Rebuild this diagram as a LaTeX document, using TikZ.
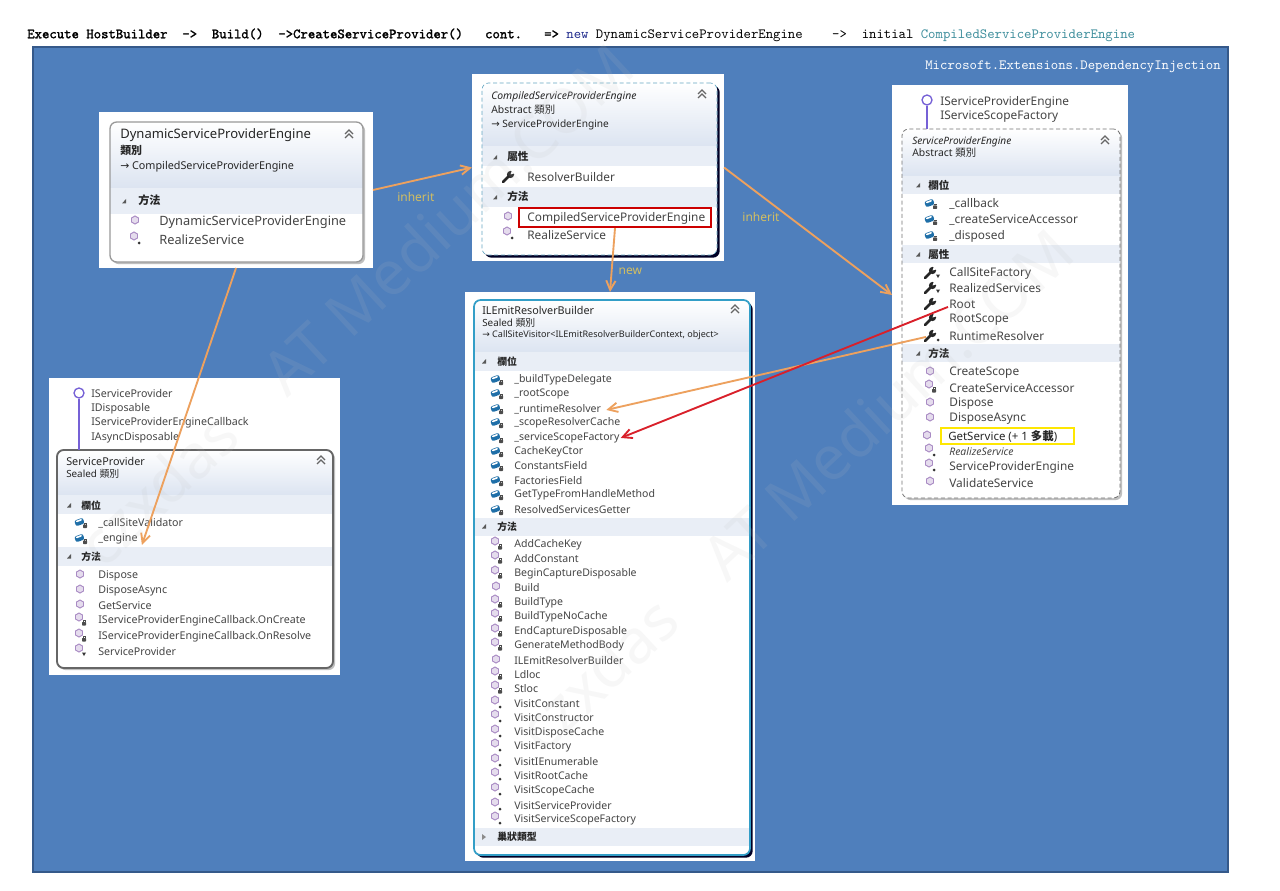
\documentclass[tikz,border=0pt]{standalone}
\usepackage{fontspec}
\setmainfont{Noto Sans}
\newfontfamily\cjk{Noto Sans CJK TC}
\newfontfamily\arrowfont{DejaVu Sans}
\newfontfamily\titlebold[FakeBold=1.6]{Latin Modern Mono}
\usetikzlibrary{arrows.meta, shadows, shapes.geometric}
\definecolor{mback}{HTML}{4F7FBC}
\definecolor{mrim}{HTML}{35598A}
\definecolor{mband}{HTML}{E9EEF6}
\definecolor{mhead}{HTML}{DCE4F1}
\definecolor{mtext}{HTML}{454545}
\definecolor{mpurp}{HTML}{A98BC4}
\definecolor{mfield}{HTML}{1F6FA8}
\definecolor{morange}{HTML}{EDA15E}
\definecolor{mred}{HTML}{D9202A}
\definecolor{mlabel}{HTML}{D2BE62}
\definecolor{mteal}{HTML}{3E8E9C}
\definecolor{mnavy}{HTML}{1F2A8C}
\tikzset{
  sized/.style 2 args={minimum width=#1*.75pt, minimum height=#2*.75pt},
  panel/.style={rectangle, fill=white, inner sep=0pt, outer sep=0pt},
  softshadow/.style={fill=white, drop shadow={shadow xshift=1.6pt, shadow yshift=-1.6pt, fill=black!25, opacity=1}},
  darkshadow/.style={fill=white, drop shadow={shadow xshift=2pt, shadow yshift=-2pt, fill=black!85!blue, opacity=1}},
  cardbase/.style={rectangle, rounded corners=5pt, inner sep=0pt, outer sep=0pt},
  greyline/.style={draw=black!40, line width=1pt},
  darkline/.style={draw=black!60, line width=1.4pt},
  blueline/.style={draw=black!10!blue!30!cyan!60!gray, line width=1.3pt},
  dotline/.style={draw=cyan!50!gray, line width=.5pt, densely dashed},
  dashline/.style={draw=black!55, line width=.6pt, densely dashed},
  member/.style={anchor=west, inner sep=0pt, outer sep=1pt, yshift=-.7pt, text=mtext, font=\fontsize{#1}{#1}\selectfont},
  cardtext/.style={anchor=west, inner sep=0pt, text=black!85, font=\fontsize{#1}{#1}\selectfont},
  bandtext/.style={anchor=west, inner sep=0pt, yshift=-.4pt, text=black!85, font=\cjk\bfseries\fontsize{#1}{#1}\selectfont},
  edgelabel/.style={inner sep=0pt, text=mlabel, font=\fontsize{9}{9}\selectfont},
  cable/.style={line width=1.4pt, -{Straight Barb[length=7pt, width=7pt, line width=1.4pt]}},
  wmark/.style={rotate=43, text=black!25, opacity=.12, inner sep=0pt, font=\bfseries\fontsize{46}{46}\selectfont},
  chevrons/.pic={
    \draw [black!60, line width=1pt] (-4,0) -- (0,-4) -- (4,0);
    \draw [black!60, line width=1pt] (-4,4) -- (0,0) -- (4,4);
  },
  opentri/.pic={\fill [black!65] (-2,2.5) -- (2,2.5) -- (2,-2) -- cycle;},
  shuttri/.pic={\fill [black!45] (-2,-3) -- (2,0) -- (-2,3) -- cycle;},
  cube/.pic={\draw [mpurp, fill=mpurp!30, line width=.7pt] (0,-4) -- (3.5,-2) -- (3.5,2) -- (0,4) -- (-3.5,2) -- (-3.5,-2) -- cycle;},
  lockmark/.pic={\fill [black!70, rounded corners=.4pt] (-2,-1) rectangle (2,2.5); \draw [black!70, line width=.5pt] (-1,-1) -- (-1,-2.5) -- (1,-2.5) -- (1,-1);},
  starmark/.pic={\fill [black!80] (0,0) circle (1.5);},
  downmark/.pic={\fill [black!80] (-2,-1.5) -- (2,-1.5) -- (0,2) -- cycle;},
  fld/.pic={
    \fill [mfield, rounded corners=1.5pt, rotate=20] (-6,-3.5) rectangle (3,2.5);
    \fill [white, rounded corners=.5pt, rotate=20] (-4.5,-2.8) rectangle (1.5,-1.2);
    \pic at (4,3.5) {lockmark};
  },
  wrench/.pic={
    \draw [black!85, line width=1.9pt, line cap=round] (-6,6) -- (0,0);
    \fill [black!85] (1.5,-1.5) circle (3.6);
    \fill [white] (1.5,-1.5) -- (3,-6) -- (6.5,-3) -- cycle;
  },
  mth/.pic={\pic at (-1,-1) {cube};},
  mthlock/.pic={\pic at (-2,-3) {cube}; \pic at (3,3) {lockmark};},
  mthstar/.pic={\pic at (-2,-3) {cube}; \pic at (3,4) {starmark};},
  mthdown/.pic={\pic at (-2,-3) {cube}; \pic at (3,3) {downmark};},
  wr/.pic={\pic {wrench};},
  wrstar/.pic={\pic {wrench}; \pic at (7,5) {starmark};},
  wrdown/.pic={\pic {wrench}; \pic at (7,4) {downmark};},
}
\newcommand{\classcard}[9]{%
  \node (#1) [cardbase, sized={#4}{#5}, #6] at (#2,#3) {};
  \begin{scope}
    \clip [rounded corners=5pt] (#1.north west) rectangle (#1.south east);
    \shade [top color=white, bottom color=mhead] (#1.north west) rectangle (#1.east |- 0,#9);
    \foreach \ta/\tb in {#8} \fill [mband] (#1.west |- 0,\ta) rectangle (#1.east |- 0,\tb);
  \end{scope}
  \node [cardbase, sized={#4}{#5}, #7] at (#2,#3) {};
}
\newcommand{\memberlist}[5]{%
  \foreach \yy/\nm/\ic in {#5} {
    \pic at (#3,\yy) {\ic};
    \node (#1\yy) [member=#2] at (#4,\yy) {\nm};
  }%
}
\begin{document}
\begin{tikzpicture}[x=.75pt, y=-.75pt]
  \useasboundingbox (0,0) rectangle (1280,891);
  % title and frame
  \node (title) [anchor=west, inner sep=0pt, font=\ttfamily\fontsize{10.55}{12}\selectfont] at (27,35) {{\titlebold Execute\ HostBuilder\ \ ->\ \ Build()\ \ ->CreateServiceProvider()\ \ \ cont.\ \ \ =>\ }\textcolor{mnavy}{new}\ DynamicServiceProviderEngine\ \ \ \ ->\ \ initial\ \textcolor{mteal}{CompiledServiceProviderEngine}};
  \node (frame) [rectangle, fill=mback, draw=mrim, line width=1.4pt, sized={1195}{825}] at (630.5,459.5) {};
  \node (nspace) [anchor=east, inner sep=0pt, text=white, font=\ttfamily\fontsize{10.55}{12}\selectfont] at (1221,67) {Microsoft.Extensions.DependencyInjection};
  % white panels
  \node (dynpanel) [panel, sized={274}{156}] at (236,190) {};
  \node (cmppanel) [panel, sized={252}{187}] at (598,167.5) {};
  \node (spepanel) [panel, sized={236}{420}] at (1010,295) {};
  \node (ilpanel) [panel, sized={290}{569}] at (610,576.5) {};
  \node (sppanel) [panel, sized={291}{297}] at (194.5,526.5) {};
  % DynamicServiceProviderEngine
  \classcard{dyncard}{236.5}{192}{253}{140}{softshadow}{greyline}{188/214}{188}
  \node (dynname) [cardtext=9.8] at (120,135) {DynamicServiceProviderEngine};
  \node (dynkind) [bandtext=8.2] at (120,150) {類別};
  \node (dynbase) [cardtext=8.1] at (120,167) {{\arrowfont→} CompiledServiceProviderEngine};
  \pic at (349,134) {chevrons};
  \pic at (124,201) {opentri};
  \node (dynband) [bandtext=8.4] at (138,200) {方法};
  \memberlist{dy}{9.6}{136}{158}{221/DynamicServiceProviderEngine/mth, 239/RealizeService/mthstar}
  % CompiledServiceProviderEngine
  \classcard{cmpcard}{599.5}{169}{235}{172}{darkshadow}{dotline}{146/166, 187/207}{146}
  \node (cmpname) [cardtext=7.8, font=\itshape\fontsize{7.8}{8}\selectfont, yshift=-1pt] at (491,95) {CompiledServiceProviderEngine};
  \node (cmpkind) [cardtext=7.8] at (491,110) {Abstract {\cjk 類別}};
  \node (cmpbase) [cardtext=7.6] at (491,125) {{\arrowfont→} ServiceProviderEngine};
  \pic at (702,94) {chevrons};
  \pic at (495,157) {opentri};
  \node (cmpband1) [bandtext=8] at (507,156) {屬性};
  \pic at (495,197) {opentri};
  \node (cmpband2) [bandtext=8] at (507,196) {方法};
  \node (ctorbox) [rectangle, draw=red!80!black, line width=1.6pt, sized={192}{19}] at (615,217.5) {};
  \memberlist{cm}{8.9}{509}{526}{176/ResolverBuilder/wr, 217/CompiledServiceProviderEngine/mth, 234/RealizeService/mthstar}
  % ServiceProviderEngine
  \node (speroot) [circle, draw=mpurp!70!blue, line width=1pt, inner sep=0pt, minimum size=7.5pt] at (927,100) {};
  \classcard{specard}{1011}{313.5}{218}{369}{softshadow}{dashline}{176/194, 245/263, 344/362}{176}
  \draw [mpurp!70!blue, line width=1pt] (speroot) -- (specard.north -| speroot);
  \foreach \yy/\nm in {101/IServiceProviderEngine, 116/IServiceScopeFactory}
    \node (sp\yy) [member=8.9] at (939,\yy) {\nm};
  \node (spename) [cardtext=7.6, font=\itshape\fontsize{7.6}{8}\selectfont, yshift=-1pt] at (912,141) {ServiceProviderEngine};
  \node (spekind) [cardtext=7.8] at (912,153) {Abstract {\cjk 類別}};
  \pic at (1105,140) {chevrons};
  \foreach \yy/\nm in {185/欄位, 254/屬性, 353/方法} {
    \pic at (918,\yy) {opentri};
    \node (spe\yy) [bandtext=7.9] at (928,\yy) {\nm};
  }
  \node (getbox) [rectangle, draw=yellow!90!orange, line width=1.6pt, sized={133}{16}] at (1007.5,436) {};
  \memberlist{se}{8.9}{931}{948}{203/\_callback/fld, 219/\_createServiceAccessor/fld, 235/\_disposed/fld, 272/CallSiteFactory/wrdown, 287/RealizedServices/wrdown, 303/Root/wr, 319/RootScope/wr, 335/RuntimeResolver/wrstar, 372/CreateScope/mth, 387/CreateServiceAccessor/mthlock, 403/Dispose/mth, 418/DisposeAsync/mth, 451/{\itshape\fontsize{7.8}{8}\selectfont RealizeService}/mthstar, 466/ServiceProviderEngine/mthstar, 482/ValidateService/mth}
  \pic at (928,436) {mth};
  \node (se436) [cardtext=8.6, font=\bfseries\fontsize{8.6}{9}\selectfont] at (948,436) {GetService (+ 1 {\cjk 多載})};
  % ILEmitResolverBuilder
  \classcard{ilcard}{612}{577.5}{276}{555}{darkshadow}{blueline}{352/371, 518/536, 828/846}{352}
  \node (ilname) [cardtext=8.1] at (482,310) {ILEmitResolverBuilder};
  \node (ilkind) [cardtext=7.4] at (482,323) {Sealed {\cjk 類別}};
  \node (ilbase) [cardtext=6.8] at (482,335) {{\arrowfont→} CallSiteVisitor<ILEmitResolverBuilderContext, object>};
  \pic at (735,309) {chevrons};
  \foreach \yy/\nm in {361/欄位, 526/方法} {
    \pic at (484,\yy) {opentri};
    \node (il\yy) [bandtext=7.4] at (497,\yy) {\nm};
  }
  \pic at (484,837) {shuttri};
  \node (il836) [bandtext=7.4] at (497,836) {巢狀類型};
  \memberlist{il}{7.9}{497}{513}{379/\_buildTypeDelegate/fld, 393/\_rootScope/fld, 408/\_runtimeResolver/fld, 422/\_scopeResolverCache/fld, 437/\_serviceScopeFactory/fld, 451/CacheKeyCtor/fld, 465/ConstantsField/fld, 480/FactoriesField/fld, 494/GetTypeFromHandleMethod/fld, 509/ResolvedServicesGetter/fld}
  \memberlist{il}{7.9}{497}{513}{544/AddCacheKey/mthlock, 558/AddConstant/mthlock, 573/BeginCaptureDisposable/mthlock, 587/Build/mth, 602/BuildType/mthlock, 616/BuildTypeNoCache/mthlock, 631/EndCaptureDisposable/mthlock, 645/GenerateMethodBody/mthlock, 660/ILEmitResolverBuilder/mth, 674/Ldloc/mthlock, 688/Stloc/mthlock, 703/VisitConstant/mthstar, 717/VisitConstructor/mthstar, 732/VisitDisposeCache/mthstar, 746/VisitFactory/mthstar, 761/VisitIEnumerable/mthstar, 775/VisitRootCache/mthstar, 790/VisitScopeCache/mthstar, 805/VisitServiceProvider/mthstar, 819/VisitServiceScopeFactory/mthstar}
  % ServiceProvider
  \node (sproot) [circle, draw=mpurp!70!blue, line width=1pt, inner sep=0pt, minimum size=7.5pt] at (79,393) {};
  \classcard{svccard}{195}{559}{276}{218}{softshadow}{darkline}{495/514, 547/566}{495}
  \draw [mpurp!70!blue, line width=1pt] (sproot) -- (svccard.north -| sproot);
  \foreach \yy/\nm in {393/IServiceProvider, 408/IDisposable, 422/IServiceProviderEngineCallback, 437/IAsyncDisposable}
    \node (if\yy) [member=8] at (90,\yy) {\nm};
  \node (svcname) [cardtext=8.1] at (66,461) {ServiceProvider};
  \node (svckind) [cardtext=7.4] at (66,474) {Sealed {\cjk 類別}};
  \pic at (321,460) {chevrons};
  \foreach \yy/\nm in {505/欄位, 556/方法} {
    \pic at (69,\yy) {opentri};
    \node (svc\yy) [bandtext=7.4] at (81,\yy) {\nm};
  }
  \memberlist{sv}{8}{81}{97}{522/\_callSiteValidator/fld, 538/\_engine/fld, 575/Dispose/mth, 590/DisposeAsync/mth, 605/GetService/mth, 620/IServiceProviderEngineCallback.OnCreate/mthlock, 636/IServiceProviderEngineCallback.OnResolve/mthlock, 651/ServiceProvider/mthdown}
  % watermarks
  \node (wmarka) [wmark] at (355,305) {czxdas\quad AT Medium.COM};
  \node (wmarkb) [wmark] at (795,490) {czxdas\quad AT Medium.COM};
  % connectors
  \draw [cable, morange] (dynpanel.east) -- node [edgelabel, xshift=-5pt, yshift=-14pt] {inherit} (cmppanel.west);
  \draw [cable, morange] (cmppanel.east) -- node [edgelabel, pos=.22, yshift=-16pt] {inherit} (spepanel.west);
  \draw [cable, morange] (ctorbox.south) -- node [edgelabel, pos=.67, xshift=14pt] {new} (ilpanel.north);
  \draw [cable, morange] (dynpanel.south) -- ([shift={(3,6)}]sv538.east);
  \draw [cable, morange] ([shift={(-22,1)}]se335.west) -- ([shift={(4,1)}]il408.east);
  \draw [cable, mred] ([shift={(0,3)}]se303.west) -- (il437.east);
\end{tikzpicture}
\end{document}
